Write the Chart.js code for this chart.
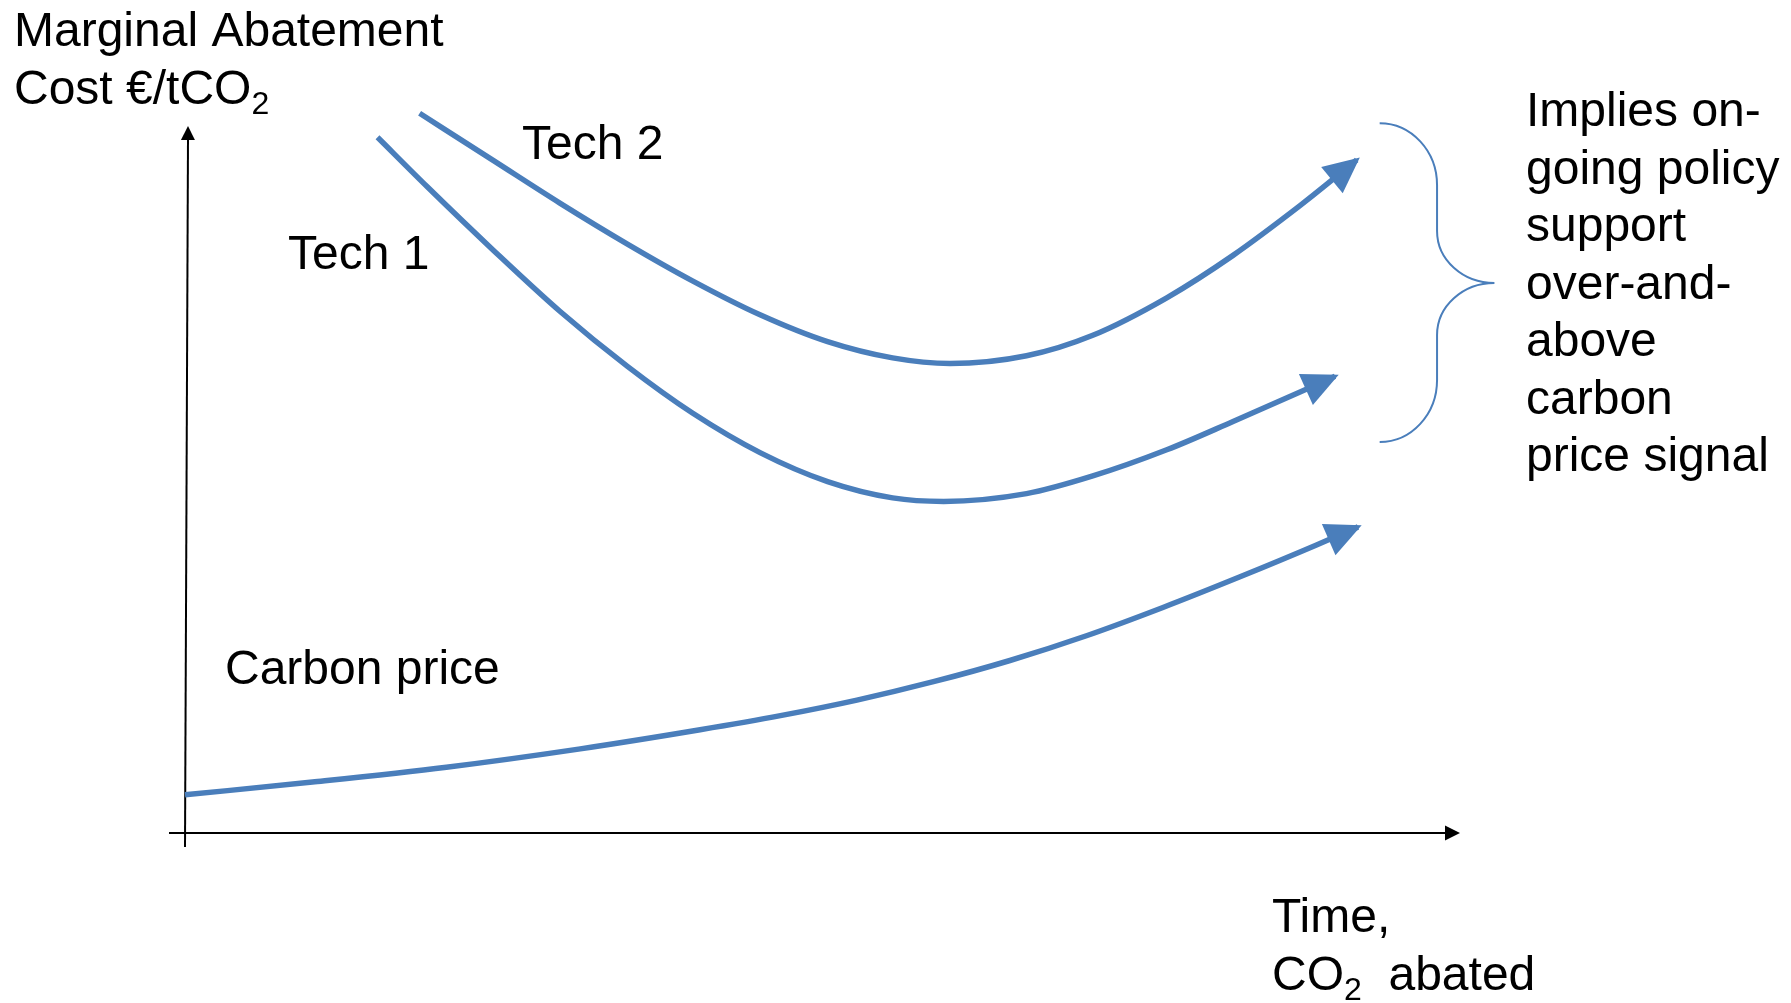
<!DOCTYPE html>
<html>
<head>
<meta charset="utf-8">
<script src="https://cdn.jsdelivr.net/npm/chart.js@4"></script>
<style>
  body { margin: 0; background: #fff; }
  #wrap { width: 1791px; height: 1003px; }
</style>
</head>
<body>
<div id="wrap"><canvas id="macChart" width="1791" height="1003"></canvas></div>
<script>
// x: time / CO2 abated (0-100), y: marginal abatement cost (0-100)
const carbonX = [0, 10, 20.5, 31, 40.4, 46.7, 52.7, 58.7, 64.7, 70.7, 76.7, 82.7, 88.7, 92];
const carbonY = [5.4, 7.2, 9.3, 11.9, 14.6, 16.6, 18.8, 21.4, 24.4, 27.9, 31.9, 36.2, 40.7, 43.3];

const tech1X = [15.1, 19, 24.2, 29.4, 34.7, 39.8, 45.1, 50.4, 55.5, 59.5, 66, 71.2, 77, 82.2, 87.5, 90.2];
const tech1Y = [98.4, 91.4, 82.4, 73.8, 66, 59.4, 53.8, 49.7, 47.4, 46.9, 48.0, 50.5, 54.2, 58.2, 62.4, 64.6];

const tech2X = [18.4, 24.2, 29.4, 34.7, 39.8, 45.1, 50.4, 55.5, 60, 66, 71.2, 77, 82.2, 87.5, 90, 91.9];
const tech2Y = [101.8, 95.1, 89.1, 83.3, 78.1, 73.3, 69.5, 67.2, 66.4, 67.5, 70.4, 75.7, 81.7, 88.8, 92.4, 95.2];

const seriesNames = ['Carbon price', 'Tech 1', 'Tech 2'];
const yTitle = ['Marginal Abatement', 'Cost €/tCO'];
const xTitle = ['Time,', 'CO'];
const noteLines = ['Implies on-', 'going policy', 'support', 'over-and-', 'above', 'carbon', 'price signal'];

const BLUE = '#4a7ebb';
const FONT = "48px 'Liberation Sans', Arial, sans-serif";
const SUB_FONT = "32px 'Liberation Sans', Arial, sans-serif";

function toPoints(xs, ys) {
    return xs.map((v, i) => ({ x: v, y: ys[i] }));
}

function arrowHead(ctx, tx, ty, dx, dy, len, half) {
    const d = Math.hypot(dx, dy);
    const ux = dx / d, uy = dy / d;
    const bx = tx - ux * len, by = ty - uy * len;
    ctx.beginPath();
    ctx.moveTo(tx, ty);
    ctx.lineTo(bx - uy * half, by + ux * half);
    ctx.lineTo(bx + uy * half, by - ux * half);
    ctx.closePath();
    ctx.fill();
}

function richText(ctx, parts, x, y) {
    let cx = x;
    parts.forEach(p => {
        ctx.font = p.sub ? SUB_FONT : FONT;
        ctx.fillText(p.t, cx, p.sub ? y + 10 : y);
        cx += ctx.measureText(p.t).width;
    });
}

const diagram = {
    id: 'diagram',
    beforeDatasetsDraw: function (chart) {
        const { ctx, chartArea: a, scales: { x, y } } = chart;
        const ox = x.getPixelForValue(0), oy = y.getPixelForValue(0);
        ctx.save();
        ctx.strokeStyle = '#000';
        ctx.fillStyle = '#000';
        ctx.lineWidth = 2;
        // horizontal axis
        ctx.beginPath();
        ctx.moveTo(ox - 16, oy);
        ctx.lineTo(a.right - 12, oy);
        ctx.stroke();
        arrowHead(ctx, a.right, oy, 1, 0, 15, 7.5);
        // vertical axis (slightly leaning, as drawn)
        ctx.beginPath();
        ctx.moveTo(ox, oy + 14);
        ctx.lineTo(ox + 3, a.top + 12);
        ctx.stroke();
        arrowHead(ctx, ox + 3, a.top, 0.004, -1, 14, 7);
        ctx.restore();
    },
    afterDatasetsDraw: function (chart) {
        const { ctx, scales: { x, y } } = chart;
        ctx.save();
        ctx.fillStyle = BLUE;
        chart.data.datasets.forEach((ds, i) => {
            const pts = chart.getDatasetMeta(i).data;
            const p1 = pts[pts.length - 1], p0 = pts[pts.length - 2];
            const dx = p1.x - p0.x, dy = p1.y - p0.y;
            const d = Math.hypot(dx, dy);
            arrowHead(ctx, p1.x + dx / d * 4, p1.y + dy / d * 4, dx, dy, 36, 17);
        });

        // curly brace grouping the two technology arrows
        const x0 = x.getPixelForValue(93.7), x1 = x.getPixelForValue(98.2), x2 = x.getPixelForValue(102.7);
        const yTop = y.getPixelForValue(100.4), yMid = y.getPixelForValue(77.8), yBot = y.getPixelForValue(55.3);
        const k = 0.552, w1 = x1 - x0, w2 = x2 - x1, h1 = 62, h2 = 52;
        ctx.strokeStyle = BLUE;
        ctx.lineWidth = 2;
        ctx.beginPath();
        ctx.moveTo(x0, yTop);
        ctx.bezierCurveTo(x0 + k * w1, yTop, x1, yTop + h1 - k * h1, x1, yTop + h1);
        ctx.lineTo(x1, yMid - h2);
        ctx.bezierCurveTo(x1, yMid - h2 + k * h2, x2 - k * w2, yMid, x2, yMid);
        ctx.bezierCurveTo(x2 - k * w2, yMid, x1, yMid + h2 - k * h2, x1, yMid + h2);
        ctx.lineTo(x1, yBot - h1);
        ctx.bezierCurveTo(x1, yBot - h1 + k * h1, x0 + k * w1, yBot, x0, yBot);
        ctx.stroke();

        // texts
        ctx.fillStyle = '#000';
        ctx.textBaseline = 'alphabetic';
        ctx.textAlign = 'left';
        ctx.font = FONT;
        ctx.fillText(yTitle[0], 14, 46);
        richText(ctx, [{ t: yTitle[1] }, { t: '2', sub: true }], 14, 104);
        ctx.font = FONT;
        ctx.fillText(xTitle[0], 1272, 932);
        richText(ctx, [{ t: xTitle[1] }, { t: '2', sub: true }, { t: '  abated' }], 1272, 990);
        ctx.font = FONT;
        ctx.fillText(seriesNames[0], 225, 684);
        ctx.fillText(seriesNames[1], 288, 269);
        ctx.fillText(seriesNames[2], 522, 159);
        noteLines.forEach((t, i) => ctx.fillText(t, 1526, 126 + i * 57.5));
        ctx.restore();
    }
};

const ctx = document.getElementById('macChart').getContext('2d');
const lineStyle = {
    showLine: true,
    borderColor: BLUE,
    backgroundColor: BLUE,
    borderWidth: 5.5,
    pointRadius: 0,
    cubicInterpolationMode: 'monotone',
    fill: false,
    clip: false
};

const macChart = new Chart(ctx, {
    type: 'scatter',
    data: {
        datasets: [
            Object.assign({ label: seriesNames[0], data: toPoints(carbonX, carbonY) }, lineStyle),
            Object.assign({ label: seriesNames[1], data: toPoints(tech1X, tech1Y) }, lineStyle),
            Object.assign({ label: seriesNames[2], data: toPoints(tech2X, tech2Y) }, lineStyle)
        ]
    },
    options: {
        responsive: false,
        animation: false,
        devicePixelRatio: 1,
        layout: { padding: { left: 185, right: 331, top: 126, bottom: 170 } },
        scales: {
            x: { type: 'linear', min: 0, max: 100, display: false },
            y: { type: 'linear', min: 0, max: 100, display: false }
        },
        plugins: {
            legend: { display: false },
            tooltip: { enabled: false }
        }
    },
    plugins: [diagram]
});
</script>
</body>
</html>
